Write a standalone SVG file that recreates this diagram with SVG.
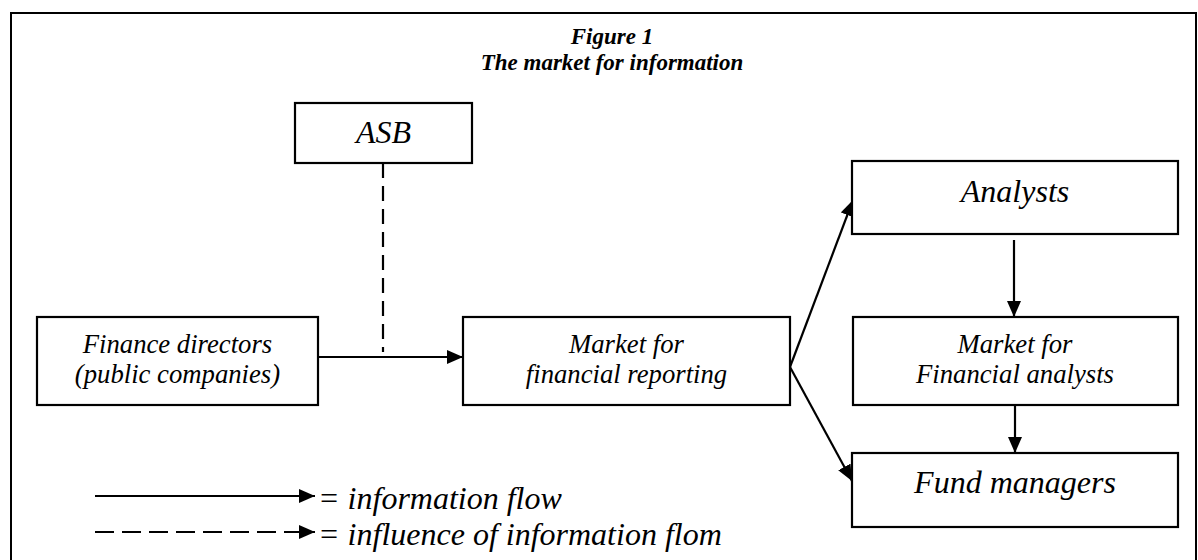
<svg xmlns="http://www.w3.org/2000/svg" width="1198" height="560" viewBox="0 0 1198 560">
  <style>
    .box { fill: #ffffff; stroke: #000000; stroke-width: 2.2; }
    .frame { fill: none; stroke: #000000; stroke-width: 2; }
    .line { fill: none; stroke: #000000; stroke-width: 2.2; }
    .dash { fill: none; stroke: #000000; stroke-width: 2.2; stroke-dasharray: 15 8; }
    .dashleg { fill: none; stroke: #000000; stroke-width: 2.2; stroke-dasharray: 19 8; }
    text { font-family: "Liberation Serif", serif; font-style: italic; fill: #000000; }
    .title { font-weight: bold; font-size: 23px; text-anchor: middle; }
    .t2 { font-size: 26.7px; text-anchor: middle; }
    .t1 { font-size: 32px; text-anchor: middle; }
    .leg { font-size: 32px; }
  </style>
  <defs>
    <marker id="arrow" markerUnits="userSpaceOnUse" markerWidth="17" markerHeight="15" refX="16" refY="7" orient="auto">
      <path d="M0,0 L16,7 L0,14 z" fill="#000000"/>
    </marker>
  </defs>

  <rect class="frame" x="11" y="13" width="1185" height="570"/>

  <g id="title">
    <text class="title" x="612" y="44">Figure 1</text>
    <text class="title" x="612" y="70">The market for information</text>
  </g>

  <g id="connectors">
    <line class="dash" x1="383" y1="163" x2="383" y2="352"/>
    <line class="line" x1="318" y1="357" x2="463" y2="357" marker-end="url(#arrow)"/>
    <line class="line" x1="790" y1="367" x2="853" y2="200" marker-end="url(#arrow)"/>
    <line class="line" x1="790" y1="367" x2="852" y2="481" marker-end="url(#arrow)"/>
    <line class="line" x1="1014" y1="240" x2="1014" y2="317" marker-end="url(#arrow)"/>
    <line class="line" x1="1015" y1="405" x2="1015" y2="453" marker-end="url(#arrow)"/>
  </g>

  <g id="asb">
    <rect class="box" x="295" y="103" width="177" height="60"/>
    <text class="t1" x="383.5" y="143">ASB</text>
  </g>

  <g id="finance-directors">
    <rect class="box" x="37" y="317" width="281" height="88"/>
    <text class="t2" x="177.5" y="353">Finance directors</text>
    <text class="t2" x="177.5" y="383">(public companies)</text>
  </g>

  <g id="market-financial-reporting">
    <rect class="box" x="463" y="317" width="327" height="88"/>
    <text class="t2" x="626.5" y="353">Market for</text>
    <text class="t2" x="626.5" y="383">financial reporting</text>
  </g>

  <g id="analysts">
    <rect class="box" x="852" y="161" width="326" height="73"/>
    <text class="t1" x="1015" y="202">Analysts</text>
  </g>

  <g id="market-financial-analysts">
    <rect class="box" x="853" y="317" width="325" height="88"/>
    <text class="t2" x="1015" y="353">Market for</text>
    <text class="t2" x="1015" y="383">Financial analysts</text>
  </g>

  <g id="fund-managers">
    <rect class="box" x="852" y="453" width="326" height="74"/>
    <text class="t1" x="1015" y="493">Fund managers</text>
  </g>

  <g id="legend">
    <line class="line" x1="95" y1="496" x2="315" y2="496" marker-end="url(#arrow)"/>
    <text class="leg" x="318" y="509">= information flow</text>
    <line class="dashleg" x1="95" y1="532" x2="315" y2="532" marker-end="url(#arrow)"/>
    <text class="leg" x="318" y="545">= influence of information flom</text>
  </g>
</svg>
